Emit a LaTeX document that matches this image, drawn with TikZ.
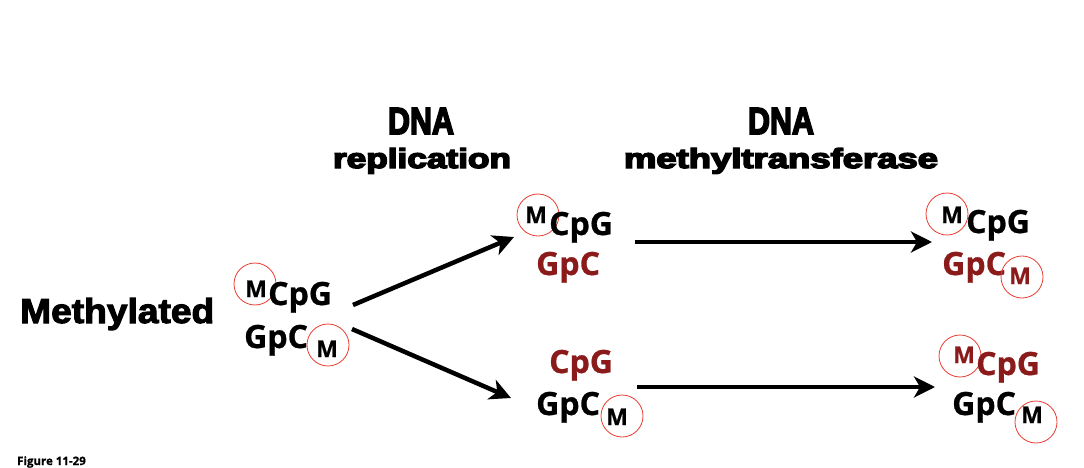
\documentclass[tikz,border=0pt]{standalone}
\usepackage{fontspec}
\usepackage{graphicx}
\usetikzlibrary{arrows.meta}
\setmainfont{Open Sans}
\newfontfamily\headfont{Liberation Sans}[UprightFont=* Bold, FakeBold=5]
\newfontfamily\methfont{Liberation Sans}[UprightFont=* Bold, FakeBold=3]
\newfontfamily\bpfont{Open Sans}[UprightFont=* Bold, FakeBold=0.8]
\definecolor{dred}{RGB}{139,26,26}
\definecolor{cred}{RGB}{232,60,48}
\tikzset{
  head/.style={inner sep=0pt, anchor=base, font=\headfont},
  bp/.style={inner sep=0pt, anchor=base west, font=\bpfont\fontsize{32}{36}\selectfont},
  mm/.style={inner sep=0pt, anchor=base west, font=\bpfont\fontsize{23}{26}\selectfont},
  ring/.style={draw=cred, line width=0.8pt, circle, minimum size=42pt, inner sep=0pt},
  arr/.style={line width=4.5pt, -{Stealth[length=21pt,width=21pt,inset=6pt]}}
}
\begin{document}
\begin{tikzpicture}[x=1pt,y=-1pt]
\useasboundingbox (0,0) rectangle (1084,468);
% headings
\node[head] (h1a) at (421,134) {\resizebox{66pt}{26pt}{DNA}};
\node[head] (h1b) at (422,168) {\resizebox{178pt}{20pt}{replication}};
\node[head] (h2a) at (781,134) {\resizebox{66pt}{26pt}{DNA}};
\node[head] (h2b) at (781,168) {\resizebox{314pt}{20pt}{methyltransferase}};
\node[inner sep=0pt, anchor=base west, font=\methfont] (meth) at (20,323) {\resizebox{194pt}{25pt}{Methylated}};
% left cluster
\node[ring] (c1) at (255,284) {};
\node[mm] (m1) at (245,297) {M};
\node[bp] (l1) at (268,305) {CpG};
\node[bp] (l2) at (244,348) {GpC};
\node[mm] (m2) at (316,357) {M};
\node[ring] (c2) at (328,345) {};
% middle top
\node[ring] (c3) at (538,215) {};
\node[mm] (m3) at (525,223) {M};
\node[bp] (t1) at (549,235) {CpG};
\node[bp, text=dred] (t2) at (536,275) {GpC};
% middle bottom
\node[bp, text=dred] (b1) at (549,373) {CpG};
\node[bp] (b2) at (536,415) {GpC};
\node[mm] (m4) at (606,425) {M};
\node[ring] (c4) at (622,416) {};
% right top
\node[ring] (c5) at (947,214) {};
\node[mm] (m5) at (941,223) {M};
\node[bp] (rt1) at (966,233) {CpG};
\node[bp, text=dred] (rt2) at (942,275) {GpC};
\node[mm, text=dred] (m6) at (1009,284) {M};
\node[ring] (c6) at (1022,277) {};
% right bottom
\node[ring] (c7) at (960,356) {};
\node[mm, text=dred] (m7) at (953,363) {M};
\node[bp, text=dred] (rb1) at (976,375) {CpG};
\node[bp] (rb2) at (952,415) {GpC};
\node[mm] (m8) at (1021,423) {M};
\node[ring] (c8) at (1036,422) {};
% arrows
\coordinate (a1s) at (353,305);
\coordinate (a1e) at (514,237);
\coordinate (a2s) at (352,329);
\coordinate (a2e) at (511,398);
\coordinate (a3s) at (635,242);
\coordinate (a3e) at (932,242);
\coordinate (a4s) at (637,387);
\coordinate (a4e) at (935,387);
\draw[arr] (a1s) -- (a1e);
\draw[arr] (a2s) -- (a2e);
\draw[arr] (a3s) -- (a3e);
\draw[arr] (a4s) -- (a4e);
% caption
\node[inner sep=0pt, anchor=base west, font=\bpfont\fontsize{11.5}{12}\selectfont] (fig) at (17,465) {Figure 11-29};
\end{tikzpicture}
\end{document}
